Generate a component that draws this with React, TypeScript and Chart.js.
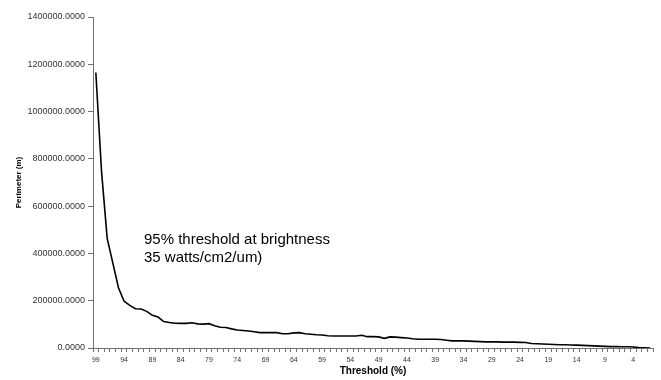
import React, { useEffect, useRef } from "react";
import { Chart, registerables } from "chart.js";

Chart.register(...registerables);

// Threshold categories 99 .. 1
const thresholds: string[] = Array.from({ length: 99 }, (_, i) => String(99 - i));

// Perimeter (m) for each threshold
const perimeter: number[] = [
  1165000, 750000, 465000, 360000, 255000, 198000, 180000, 166000, 165000, 155000, // 99-90
  138000, 131000, 112000, 108000, 105000, 104000, 104000, 107000, 102000, 101000, // 89-80
  103000, 94000, 88000, 87000, 81000, 76000, 74000, 72000, 69000, 65000, // 79-70
  65000, 65000, 65000, 60000, 60000, 64000, 65000, 60000, 58000, 56000, // 69-60
  55000, 52000, 51000, 51000, 51000, 51000, 51000, 54000, 48000, 48000, // 59-50
  47000, 41000, 47000, 46000, 44000, 42000, 39000, 37000, 37000, 37000, // 49-40
  37000, 36000, 33000, 30000, 30000, 30000, 29000, 28000, 27000, 26000, // 39-30
  26000, 26000, 25000, 25000, 25000, 24000, 23000, 19000, 18000, 17000, // 29-20
  16000, 15000, 14000, 14000, 13000, 12000, 11000, 10000, 9000, 8000, // 19-10
  7000, 6000, 6000, 5500, 5000, 4000, 2000, 1000, 0, // 9-1
];

const yTickValues: number[] = [0, 200000, 400000, 600000, 800000, 1000000, 1200000, 1400000];

const xTitle = "Threshold (%)";
const yTitle = "Perimeter (m)";
const annotationLines: string[] = ["95% threshold at brightness", "35 watts/cm2/um)"];

const FONT = "'Liberation Sans', Arial, sans-serif";

const annotationPlugin = {
  id: "noteText",
  afterDraw(chart: any) {
    const { ctx, chartArea } = chart;
    ctx.save();
    ctx.fillStyle = "#000";
    ctx.font = `15px ${FONT}`;
    ctx.textAlign = "left";
    ctx.textBaseline = "alphabetic";
    const x0 = chartArea.left + 51;
    const y0 = chartArea.top + 226.5;
    annotationLines.forEach((t, i) => ctx.fillText(t, x0, y0 + i * 18));
    ctx.restore();
  },
};

export default function App() {
  const ref = useRef<HTMLCanvasElement | null>(null);

  useEffect(() => {
    if (!ref.current) return;
    const chart = new Chart(ref.current, {
      type: "line",
      data: {
        labels: thresholds,
        datasets: [
          {
            data: perimeter,
            borderColor: "#000",
            borderWidth: 1.6,
            pointRadius: 0,
            tension: 0,
            fill: false,
          },
        ],
      },
      options: {
        animation: false,
        responsive: true,
        maintainAspectRatio: false,
        layout: { padding: { left: 0, right: 8, top: 17, bottom: 0 } },
        plugins: { legend: { display: false }, tooltip: { enabled: false } },
        scales: {
          x: {
            type: "category",
            offset: true,
            border: { display: true, color: "#707070", width: 1 },
            grid: {
              display: true,
              drawOnChartArea: false,
              drawTicks: true,
              tickLength: 4,
              offset: true,
              color: "#707070",
            },
            ticks: {
              autoSkip: false,
              maxRotation: 0,
              minRotation: 0,
              padding: 4,
              color: "#333",
              font: { family: FONT, size: 7 },
              callback: (_v: any, i: number) => (i % 5 === 0 ? thresholds[i] : ""),
            },
            title: {
              display: true,
              text: xTitle,
              color: "#000",
              font: { family: FONT, size: 10, weight: "bold" },
              padding: { top: 0, bottom: 3 },
            },
            afterFit: (s: any) => {
              s.height = 32;
            },
          },
          y: {
            min: 0,
            max: 1400000,
            border: { display: true, color: "#707070", width: 1 },
            grid: {
              display: true,
              drawOnChartArea: false,
              drawTicks: true,
              tickLength: 5,
              color: "#707070",
            },
            afterBuildTicks: (s: any) => {
              s.ticks = yTickValues.map((v) => ({ value: v }));
            },
            ticks: {
              padding: 3,
              color: "#333",
              font: { family: FONT, size: 9 },
              callback: (v: any) => Number(v).toFixed(4),
            },
            title: {
              display: true,
              text: yTitle,
              color: "#000",
              font: { family: FONT, size: 8, weight: "bold" },
              padding: { top: 14, bottom: 0 },
            },
            afterFit: (s: any) => {
              s.width = 93;
            },
          },
        },
      },
      plugins: [annotationPlugin],
    });
    return () => chart.destroy();
  }, []);

  return (
    <div style={{ position: "fixed", left: 0, top: 0, width: 661, height: 380, background: "#fff" }}>
      <canvas ref={ref} />
    </div>
  );
}
